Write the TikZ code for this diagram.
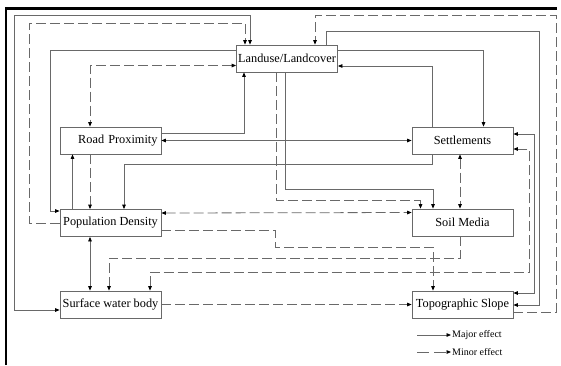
\documentclass[tikz,border=0pt]{standalone}
\usepackage{fontspec}
\setmainfont{Liberation Serif}
\usetikzlibrary{arrows.meta,calc}
\definecolor{lgray}{RGB}{105,105,105}
\tikzset{
  box/.style={draw=lgray, line width=0.8pt, fill=white, minimum width=101pt, minimum height=27pt, inner sep=0pt, font=\fontsize{12.3}{14}\selectfont},
  major/.style={draw=lgray, line width=0.8pt},
  minor/.style={major, dash pattern=on 10pt off 4pt},
  legendtext/.style={inner sep=1pt, anchor=west, font=\fontsize{10}{11}\selectfont},
  >={Triangle[length=4.5pt,width=3.6pt,color=black]}
}
\begin{document}
\begin{tikzpicture}[x=1pt,y=1pt]
\useasboundingbox (0,0) rectangle (561,-365);
% frame
\draw[line width=2.3pt,black] (6,-365) -- (6,-8.5) -- (557,-8.5);
% nodes
\node[box] (L) at (287,-58.5) {Landuse/Landcover};
\node[box, text width=94pt, align=right] (R) at (110.5,-140.5) {Road Proximity};
\node[box] (S) at (462.5,-140.5) {Settlements};
\node[box] (P) at (110.5,-223) {Population Density};
\node[box] (M) at (462.5,-222.5) {Soil Media};
\node[box] (W) at (110.5,-304.5) {Surface water body};
\node[box] (T) at (462.5,-304.5) {Topographic Slope};
% connectors
\draw[major,<->] ([yshift=-5.5pt]W.west) -| (14,-15) -| ([xshift=-37pt]L.north);
\draw[minor,->] (P.west) -| (29,-23) -| ([xshift=-42pt]L.north);
\draw[major,->] ([yshift=8.5pt]L.west) -| (50,-211) -- ([yshift=12pt]P.west);
\draw[minor,<->] ([yshift=-7pt]L.west) -| ([xshift=-20.5pt]R.north);
\draw[major,->] ([yshift=7.5pt]R.east) -| ([xshift=-43pt]L.south);
\draw[major,<->] (R.east) -- (S.west);
\draw[minor,->] ([xshift=-20.5pt]R.south) -- ([xshift=-20.5pt]P.north);
\draw[major,->] ([xshift=-38pt]P.north) -- ([xshift=-38pt]R.south);
\draw[major,<->] ([xshift=-20.5pt]P.south) -- ([xshift=-20.5pt]W.north);
\draw[minor,->] ([xshift=-11pt]L.south) |- (420.5,-200) -- ([xshift=-42pt]M.north);
\draw[major,->] ([xshift=-2pt]L.south) |- (433,-189) -- ([xshift=-29.5pt]M.north);
\draw[major,->] ([yshift=8.5pt]L.east) -| ([xshift=21pt]S.north);
\draw[major,->] ([xshift=-30.5pt]S.north) |- ([yshift=-7.5pt]L.east);
\draw[major,->] ([xshift=-30.5pt]S.south) |- (124,-164) -- ([xshift=13.5pt]P.north);
\draw[minor,<->] ([xshift=-2.5pt]S.south) -- ([xshift=-2.5pt]M.north);
\draw[minor,<->] ([yshift=10pt]P.east) -- ([yshift=10pt]M.west);
\draw[minor,->] ([yshift=-7pt]P.east) -| (275,-247) -| ([xshift=-29.5pt]T.north);
\draw[minor,->] ([xshift=-2.5pt]M.south) |- (109,-258) -- ([xshift=-1.5pt]W.north);
\draw[minor,<->] ([xshift=39.5pt]W.north) |- (529,-272) |- ([yshift=-8.5pt]S.east);
\draw[major,<->] ([yshift=6.5pt]S.east) -| (534,-293) -- ([yshift=11.5pt]T.east);
\draw[major,->] ([xshift=39pt]L.north) |- (539,-31) |- ([yshift=-0.5pt]T.east);
\draw[minor,->] ([yshift=-7.5pt]T.east) -| (556,-15) -| ([xshift=28pt]L.north);
\draw[minor,->] (W.east) -- (T.west);
% legend
\node[legendtext] (maj) at (451,-335) {Major effect};
\node[legendtext] (min) at (451,-352) {Minor effect};
\coordinate (majs) at (417,-335);
\coordinate (mins) at (417,-352);
\draw[major,->] (majs) -- (maj.west);
\draw[major,dash pattern=on 12pt off 5pt,->] (mins) -- (min.west);
\end{tikzpicture}
\end{document}
